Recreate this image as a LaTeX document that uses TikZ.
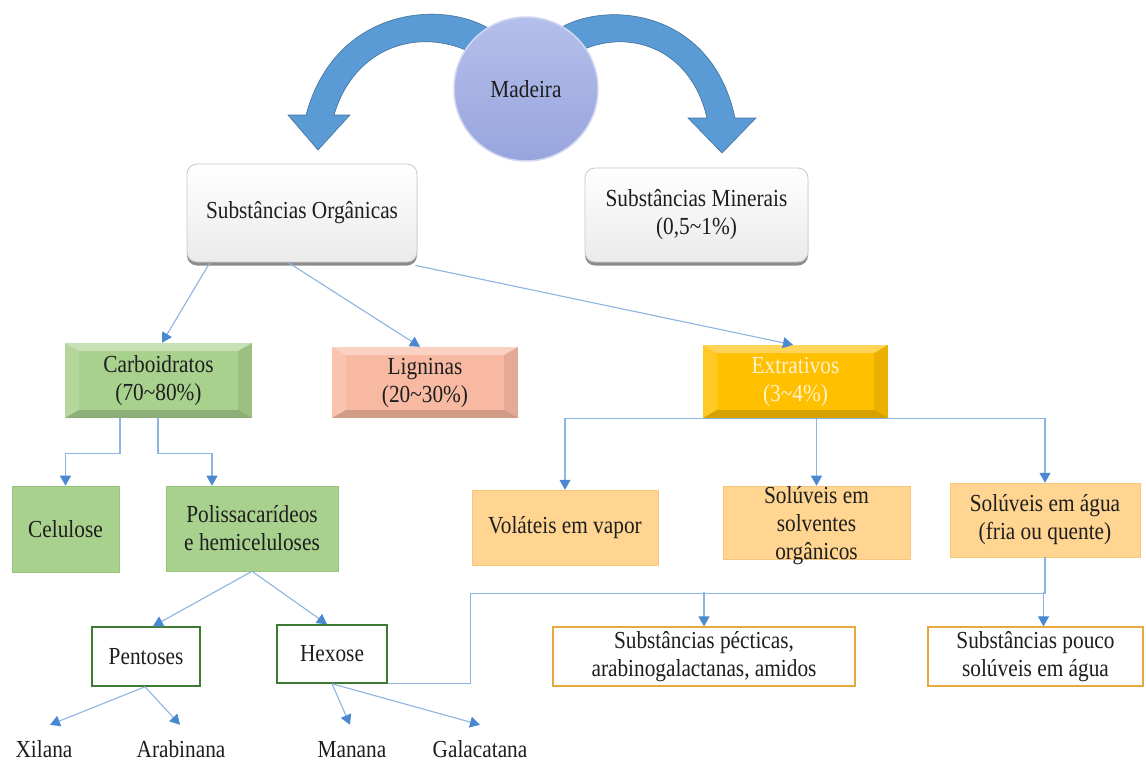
\documentclass[tikz,border=0pt]{standalone}
\usepackage{fontspec}
\setmainfont{Liberation Serif}[FakeStretch=0.87]
\usetikzlibrary{arrows.meta,shadows,backgrounds,calc}
\definecolor{arrowblue}{HTML}{5B9BD5}
\definecolor{arrowdark}{HTML}{41719C}
\definecolor{madtop}{HTML}{B5BFEB}
\definecolor{madbot}{HTML}{98A5DD}
\definecolor{cline}{HTML}{8DB4E2}
\definecolor{ctip}{HTML}{4A89D0}
\definecolor{cgreen}{HTML}{A9D18E}
\definecolor{cgreenb}{HTML}{98C47C}
\definecolor{csalmon}{HTML}{F8B9A2}
\definecolor{cgold}{HTML}{FFC000}
\definecolor{cexttext}{HTML}{FFF2CC}
\definecolor{corange}{HTML}{FFD591}
\definecolor{corangeb}{HTML}{F5C77A}
\definecolor{cpectb}{HTML}{E6A93C}
\definecolor{cgb}{HTML}{3E7B32}
\definecolor{ctext}{HTML}{1E1E1E}
\begin{document}
\begin{tikzpicture}[x=1pt,y=-1pt,
  font=\fontsize{24.5}{28}\selectfont,
  sbox/.style={rectangle, align=center, inner sep=2pt, text=ctext},
  greenbox/.style={sbox, fill=cgreen, draw=cgreenb, line width=.6pt},
  orbox/.style={sbox, fill=corange, draw=corangeb, line width=.5pt},
  outbox/.style={sbox, fill=white, draw=cpectb, line width=1.3pt},
  gbox/.style={sbox, fill=white, draw=cgb, line width=1.5pt},
  topbox/.style={sbox, rounded corners=10pt, top color=white, bottom color=black!8,
     draw=black!22, line width=.8pt,
     drop shadow={shadow xshift=0pt,shadow yshift=-3.5pt,fill=black!75,opacity=.6}},
  bevel/.style={path picture={
     \fill[white,opacity=.35] (path picture bounding box.north west) -- (path picture bounding box.north east)
        -- ([xshift=-14pt,yshift=-8pt]path picture bounding box.north east)
        -- ([xshift=14pt,yshift=-8pt]path picture bounding box.north west) -- cycle;
     \fill[white,opacity=.15] (path picture bounding box.north west) -- (path picture bounding box.south west)
        -- ([xshift=14pt,yshift=8pt]path picture bounding box.south west)
        -- ([xshift=14pt,yshift=-8pt]path picture bounding box.north west) -- cycle;
     \fill[black,opacity=.08] (path picture bounding box.north east) -- (path picture bounding box.south east)
        -- ([xshift=-14pt,yshift=8pt]path picture bounding box.south east)
        -- ([xshift=-14pt,yshift=-8pt]path picture bounding box.north east) -- cycle;
     \fill[black,opacity=.16] (path picture bounding box.south west) -- (path picture bounding box.south east)
        -- ([xshift=-14pt,yshift=8pt]path picture bounding box.south east)
        -- ([xshift=14pt,yshift=8pt]path picture bounding box.south west) -- cycle;
  }},
  leaf/.style={inner sep=0pt, text height=15pt, text depth=5pt, text=ctext},
  con/.style={draw=cline, line width=1.1pt},
  arr/.style={con, -{Triangle[width=11pt,length=10pt,color=ctip]}},
  bigarrow/.style={fill=arrowblue, draw=arrowdark, line width=.6pt},
]
\fill[white] (0,0) rectangle (1146,766);
\useasboundingbox (0,0) rectangle (1146,766);

% big curved arrows
\path[bigarrow] (488,28) .. controls (440,0) and (335,8) .. (306,115)
   -- (288,115) -- (318,150) -- (350,115) -- (334,115)
   .. controls (355,45) and (420,28) .. (470,52) -- cycle;
\path[bigarrow] (560,28) .. controls (608,0) and (712,10) .. (735,118)
   -- (756,118) -- (722,153) -- (688,118) -- (707,118)
   .. controls (690,45) and (625,28) .. (578,52) -- cycle;

% Madeira
\node[circle, minimum size=144, top color=madtop, bottom color=madbot,
      draw=white!55!madbot, line width=1.5pt, text=ctext] (mad) at (526,89) {Madeira};

% top boxes
\node[topbox, minimum width=230, minimum height=98] (so) at (302,213) {Substâncias Orgânicas};
\node[topbox, minimum width=223, minimum height=94] (min) at (696.5,215) {Substâncias Minerais\\(0,5\textasciitilde1\%)};

% second level
\node[sbox, fill=cgreen, bevel, minimum width=187, minimum height=75] (carb) at (158.5,380.5) {Carboidratos\\(70\textasciitilde80\%)};
\node[sbox, fill=csalmon, bevel, minimum width=186, minimum height=71] (lig) at (425,382.5) {Ligninas\\(20\textasciitilde30\%)};
\node[sbox, fill=cgold, bevel, text=cexttext, minimum width=185, minimum height=73] (ext) at (795.5,381.5) {Extrativos\\(3\textasciitilde4\%)};

\begin{scope}[on background layer]
  \foreach \s in {0,2,...,16}
    \fill[black,opacity=.035] ($(lig.north west)+(10-\s,12-\s)$) rectangle ($(lig.south east)+(10+\s,12+\s)$);
  \foreach \s in {0,2,4}
    \fill[black,opacity=.04] ($(carb.north west)+(3-\s,4-\s)$) rectangle ($(carb.south east)+(3+\s,4+\s)$);
  \foreach \s in {0,2,4}
    \fill[black,opacity=.04] ($(ext.north west)+(3-\s,4-\s)$) rectangle ($(ext.south east)+(3+\s,4+\s)$);
\end{scope}

% third level
\node[greenbox, minimum width=107, minimum height=86] (cel) at (65.5,529) {Celulose};
\node[greenbox, minimum width=172, minimum height=85] (pol) at (252,528.5) {Polissacarídeos\\e hemiceluloses};
\node[orbox, minimum width=186, minimum height=75] (vol) at (565,527.5) {Voláteis em vapor};
\node[orbox, inner sep=0pt, minimum width=187, minimum height=73, text depth=0pt] (solv) at (816.5,522.5) {Solúveis em\\solventes\\orgânicos};
\node[orbox, minimum width=190, minimum height=74] (agua) at (1045,520) {Solúveis em água\\(fria ou quente)};

% fourth level
\node[gbox, minimum width=108, minimum height=59] (pent) at (146,656.5) {Pentoses};
\node[gbox, minimum width=110, minimum height=58] (hex) at (332,654) {Hexose};
\node[outbox, minimum width=302, minimum height=59] (pect) at (704,656.5) {Substâncias pécticas,\\arabinogalactanas, amidos};
\node[outbox, minimum width=215, minimum height=59] (pouco) at (1035.5,656.5) {Substâncias pouco\\solúveis em água};

% leaves
\node[leaf] (xil) at (44,752) {Xilana};
\node[leaf] (arab) at (181,752) {Arabinana};
\node[leaf] (man) at (352,752) {Manana};
\node[leaf] (gal) at (480,752) {Galacatana};

% connectors
\draw[arr] ([xshift=-92pt]so.south) -- ([xshift=3.5pt]carb.north);
\draw[arr] ([xshift=-14pt]so.south) -- ([xshift=-5pt]lig.north);
\draw[arr] ([xshift=-2pt,yshift=-3pt]so.south east) -- ([xshift=-2.5pt]ext.north);

\draw[arr] ([xshift=-38.5pt]carb.south) -- ++(0,35) -| (cel.north);
\draw[arr] ([xshift=-0.5pt]carb.south) -- ++(0,35) -| ([xshift=-40pt]pol.north);

\draw[arr] (ext.south) -| (vol.north);
\draw[arr] (ext.south) -| (agua.north);
\draw[arr] (ext.south -| solv.north) -- (solv.north);

\draw[arr] (pol.south) -- ([xshift=7pt]pent.north);
\draw[arr] (pol.south) -- ([xshift=-5pt]hex.north);

\draw[arr] ([xshift=-1pt]pent.south) -- ([xshift=6pt,yshift=17pt]xil.north);
\draw[arr] ([xshift=-1pt]pent.south) -- ([xshift=-1pt,yshift=17pt]arab.north);
\draw[arr] (hex.south) -- ([xshift=-2pt,yshift=17pt]man.north);
\draw[arr] (hex.south) -- ([yshift=17pt]gal.north);

\draw[con] (hex.south east) -- ++(83,0) |- ([yshift=-36pt]agua.south) -- (agua.south);
\draw[arr] ([yshift=34pt]pect.north) -- (pect.north);
\draw[arr] ([xshift=8pt,yshift=34pt]pouco.north) -- ([xshift=8pt]pouco.north);
\end{tikzpicture}
\end{document}
